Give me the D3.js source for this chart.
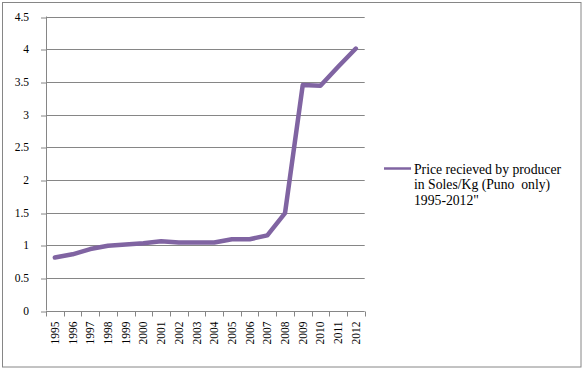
<!DOCTYPE html>
<html>
<head>
<meta charset="utf-8">
<script src="https://cdn.jsdelivr.net/npm/d3@7"></script>
<style>
  html, body { margin: 0; padding: 0; background: #fff; }
  svg { display: block; }
  svg text { font-family: 'Liberation Serif', serif; }
</style>
</head>
<body>
<div id="chart"></div>
<script>
// price received by producer, Soles/Kg (Puno only)
const years = ["1995", "1996", "1997", "1998", "1999", "2000", "2001", "2002", "2003",
  "2004", "2005", "2006", "2007", "2008", "2009", "2010", "2011", "2012"];
const prices = [0.81, 0.86, 0.94, 0.99, 1.01, 1.03, 1.06, 1.04, 1.04,
  1.04, 1.09, 1.09, 1.15, 1.49, 3.45, 3.44, 3.73, 4.01];
const yTicks = [0, 0.5, 1, 1.5, 2, 2.5, 3, 3.5, 4, 4.5];
const legendLines = ["Price recieved by producer", "in Soles/Kg (Puno  only)", "1995-2012\""];

(function () {
  const width = 584;
  const height = 370;
  const plot = { left: 46, right: 364.7, top: 16.5, bottom: 310.5 };
  const lineColor = "#8064A2";
  const axisColor = "#868686";
  const serif = "'Liberation Serif', serif";

  const svg = d3.select("#chart").append("svg")
    .attr("width", width)
    .attr("height", height)
    .style("font-family", serif);

  // outer chart border
  svg.append("rect")
    .attr("x", 2.5)
    .attr("y", 2.5)
    .attr("width", 578.5)
    .attr("height", 364.5)
    .attr("fill", "#fff")
    .attr("stroke", axisColor)
    .attr("stroke-width", 1);

  const xScale = d3.scaleBand()
    .domain(years)
    .range([plot.left, plot.right])
    .padding(0);

  const yScale = d3.scaleLinear()
    .domain([0, 4.5])
    .range([plot.bottom, plot.top]);

  const snap = (v) => Math.round(v) + 0.5;

  // horizontal gridlines
  svg.append("g")
    .selectAll("line")
    .data(yTicks.filter((t) => t !== 0))
    .join("line")
    .attr("x1", plot.left)
    .attr("x2", plot.right)
    .attr("y1", (d) => snap(yScale(d)))
    .attr("y2", (d) => snap(yScale(d)))
    .attr("stroke", axisColor)
    .attr("stroke-width", 1);

  // y axis
  const yAxis = d3.axisLeft(yScale)
    .tickValues(yTicks)
    .tickSize(5)
    .tickPadding(12)
    .tickFormat((d) => String(d));

  svg.append("g")
    .attr("transform", `translate(${plot.left},0)`)
    .call(yAxis)
    .attr("font-family", null)
    .call((g) => g.select(".domain").remove())
    .call((g) => g.selectAll(".tick line")
      .attr("stroke", axisColor)
      .attr("transform", (d) => `translate(0,${snap(yScale(d)) - yScale(d)})`))
    .call((g) => g.selectAll("text")
      .attr("fill", "#000")
      .style("font-size", "11.5px")
      .style("font-family", serif));

  svg.append("line")
    .attr("x1", snap(plot.left))
    .attr("x2", snap(plot.left))
    .attr("y1", plot.top)
    .attr("y2", plot.bottom)
    .attr("stroke", axisColor);

  // x axis: labels centred on bands, tick marks on band edges
  const xAxis = d3.axisBottom(xScale).tickSize(0).tickPadding(0);
  const xAxisGroup = svg.append("g")
    .attr("transform", `translate(0,${plot.bottom})`)
    .call(xAxis)
    .attr("font-family", null)
    .call((g) => g.select(".domain").remove());

  xAxisGroup.selectAll(".tick text")
    .attr("fill", "#000")
    .style("font-size", "11.5px")
    .style("font-family", serif)
    .attr("text-anchor", "end")
    .attr("dy", "0.35em")
    .attr("transform", "translate(0,11) rotate(-90)")
    .attr("y", 0);

  const axisY = snap(plot.bottom);
  svg.append("line")
    .attr("x1", plot.left)
    .attr("x2", plot.right)
    .attr("y1", axisY)
    .attr("y2", axisY)
    .attr("stroke", axisColor);

  svg.append("g")
    .selectAll("line")
    .data(years.concat(["end"]))
    .join("line")
    .attr("x1", (d) => snap(d === "end" ? plot.right : xScale(d)))
    .attr("x2", (d) => snap(d === "end" ? plot.right : xScale(d)))
    .attr("y1", axisY)
    .attr("y2", axisY + 5)
    .attr("stroke", axisColor);

  // series line
  const line = d3.line()
    .x((d, i) => xScale(years[i]) + xScale.bandwidth() / 2)
    .y((d) => yScale(d));

  svg.append("path")
    .datum(prices)
    .attr("d", line)
    .attr("fill", "none")
    .attr("stroke", lineColor)
    .attr("stroke-width", 4.5)
    .attr("stroke-linejoin", "round")
    .attr("stroke-linecap", "round");

  // legend
  const legend = svg.append("g").attr("transform", "translate(384,168.5)");
  legend.append("line")
    .attr("x1", 0)
    .attr("x2", 27)
    .attr("y1", 0)
    .attr("y2", 0)
    .attr("stroke", lineColor)
    .attr("stroke-width", 2.5);

  legend.append("text")
    .attr("x", 30)
    .attr("fill", "#000")
    .style("font-size", "13.7px")
    .style("font-family", serif)
    .style("white-space", "pre")
    .selectAll("tspan")
    .data(legendLines)
    .join("tspan")
    .attr("x", 30)
    .attr("y", (d, i) => 5 + i * 15.5)
    .text((d) => d);
})();
</script>
</body>
</html>
